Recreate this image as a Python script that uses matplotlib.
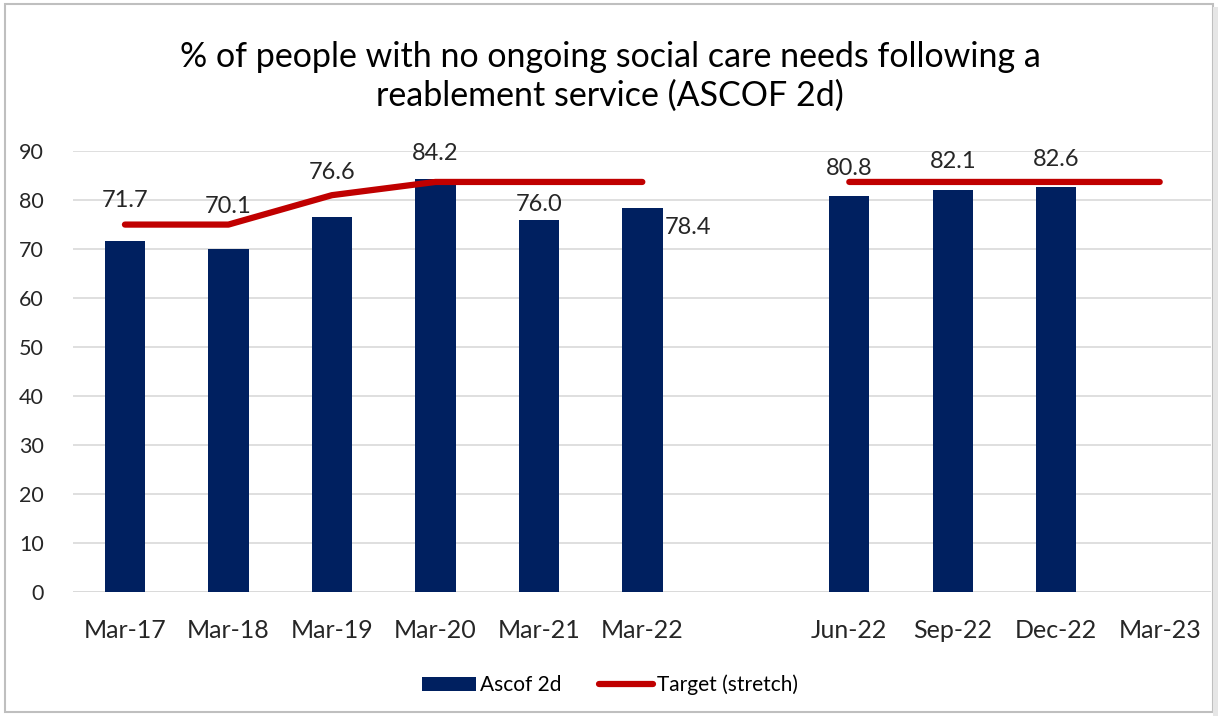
import numpy as np
import matplotlib
matplotlib.use('Agg')
import matplotlib.pyplot as plt
from matplotlib.patches import Rectangle

categories = ['Mar-17', 'Mar-18', 'Mar-19', 'Mar-20', 'Mar-21', 'Mar-22', '',
              'Jun-22', 'Sep-22', 'Dec-22', 'Mar-23']
ascof = [71.7, 70.1, 76.6, 84.2, 76.0, 78.4, None, 80.8, 82.1, 82.6, None]
target = [75.0, 75.0, 81.0, 83.7, 83.7, 83.7, None, 83.7, 83.7, 83.7, 83.7]

# label placement (offset above bar top, in axis units) - as in the original
label_dy = [8.3, 8.5, 9.1, 5.4, 3.0, -3.9, 0, 5.7, 5.7, 5.6, 0]

plt.rcParams['font.family'] = ['Lato', 'DejaVu Sans']

fig = plt.figure(figsize=(12.2, 7.16), dpi=100)
ax = fig.add_axes([0.06, 0.173, 0.933, 0.616])

x = np.arange(len(categories))
bar_x = [i for i, v in zip(x, ascof) if v is not None]
bar_v = [v for v in ascof if v is not None]
bars = ax.bar(bar_x, bar_v, width=0.39, color='#002060', label='Ascof 2d', zorder=2)

t = np.array([np.nan if v is None else v for v in target])
line, = ax.plot(x, t, color='#C00000', lw=4.5, solid_capstyle='round',
                solid_joinstyle='round', label='Target (stretch)', zorder=3)

for i, v in zip(bar_x, bar_v):
    if categories[i] == 'Mar-22':
        ax.text(i + 0.22, v + label_dy[i], f'{v:.1f}', ha='left', va='center',
                fontsize=17, color='#262626')
    else:
        ax.text(i, v + label_dy[i], f'{v:.1f}', ha='center', va='center',
                fontsize=17, color='#262626', zorder=4)

ax.set_xlim(-0.5, len(categories) - 0.5)
ax.set_ylim(0, 90)
ax.set_yticks(range(0, 91, 10))
ax.set_xticks(x)
ax.set_xticklabels(categories)
ax.tick_params(axis='both', length=0, colors='#262626')
ax.tick_params(axis='x', pad=19, labelsize=18)
ax.tick_params(axis='y', pad=21, labelsize=15.5)
ax.grid(axis='y', color='#d9d9d9', lw=1.2, zorder=0)
for s in ax.spines.values():
    s.set_visible(False)
ax.axhline(0, color='#d9d9d9', lw=1.2, zorder=1)

fig.text(0.5, 0.893, '% of people with no ongoing social care needs following a\nreablement service (ASCOF 2d)',
         ha='center', va='center', fontsize=24.5, color='#000000', linespacing=1.25)

fig.legend([bars, line], ['Ascof 2d', 'Target (stretch)'], loc='lower center',
           bbox_to_anchor=(0.5, 0.003), ncol=2, frameon=False,
           fontsize=15, handlelength=2.6, columnspacing=1.8, handletextpad=0.2)

fig.patches.append(Rectangle((0.004, 0.006), 0.99, 0.988, transform=fig.transFigure,
                             fill=False, edgecolor='#bfbfbf', lw=1.5))
fig.patches.append(Rectangle((0.994, 0.0), 0.004, 0.99, transform=fig.transFigure,
                             color='#e6e6e6', lw=0))

fig.savefig('out.png', dpi=100)
